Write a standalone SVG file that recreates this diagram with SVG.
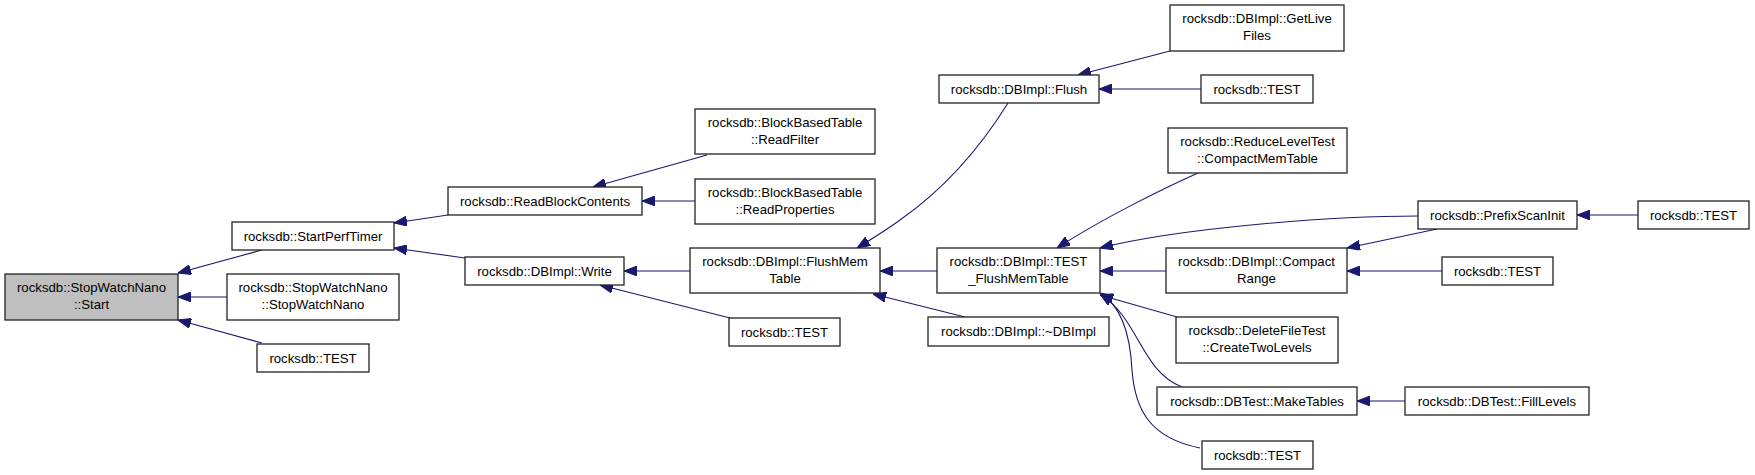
<svg xmlns="http://www.w3.org/2000/svg" width="1755" height="475" viewBox="0 0 1755 475">
<style>
.n rect{fill:#fff;stroke:#222;stroke-width:1.3}
.n.hl rect{fill:#bfbfbf}
.n text{font-family:"Liberation Sans",Arial,sans-serif;font-size:13.2px;text-anchor:middle;fill:#000}
.e path{fill:none;stroke:#191970;stroke-width:1.1;marker-end:url(#ah)}
</style>
<defs>
<marker id="ah" viewBox="0 0 13 10" refX="13" refY="5" markerWidth="13" markerHeight="10" markerUnits="userSpaceOnUse" orient="auto">
<path d="M0,0 L13,5 L0,10 z" fill="#191970" stroke="#191970" stroke-width="1"/>
</marker>
</defs>
<rect width="1755" height="475" fill="#fff"/>
<g id="edges" class="e">
<path d="M262,250 L178,273"/>
<path d="M227,297 L178,297"/>
<path d="M262,343 L178,320"/>
<path d="M448,215 L394,223"/>
<path d="M465,258 L394,248"/>
<path d="M707,155 L593,187"/>
<path d="M695,201 L642,201"/>
<path d="M690,271 L624,271"/>
<path d="M730,318 L600,285"/>
<path d="M1008,103 C985,140 950,185 900,220 C885,231 870,240 857,248"/>
<path d="M937,271 L880,271"/>
<path d="M965,317 L873,294"/>
<path d="M1170,51 L1078,75"/>
<path d="M1201,89 L1099,89"/>
<path d="M1198,173 C1160,190 1100,220 1057,248"/>
<path d="M1418,216 C1330,216 1180,228 1100,248"/>
<path d="M1166,271 L1100,271"/>
<path d="M1177,317 L1100,295"/>
<path d="M1182,387 C1140,370 1140,320 1100,294"/>
<path d="M1200,448 C1150,438 1135,410 1132,370 C1130,330 1120,305 1100,293"/>
<path d="M1437,229 L1347,248"/>
<path d="M1442,271 L1347,271"/>
<path d="M1638,215 L1577,215"/>
<path d="M1405,401 L1357,401"/>
</g>
<g id="n_start" class="n hl"><rect x="5" y="274" width="173" height="46"/><text x="91.5" y="292">rocksdb::StopWatchNano</text><text x="91.5" y="309">::Start</text></g>
<g id="n_startperftimer" class="n"><rect x="232" y="222" width="162" height="28"/><text x="313" y="240.5">rocksdb::StartPerfTimer</text></g>
<g id="n_stopwatchnano" class="n"><rect x="227" y="274" width="172" height="46"/><text x="313" y="292">rocksdb::StopWatchNano</text><text x="313" y="309">::StopWatchNano</text></g>
<g id="n_test1" class="n"><rect x="257" y="344" width="112" height="28"/><text x="313" y="362.5">rocksdb::TEST</text></g>
<g id="n_readblockcontents" class="n"><rect x="448" y="187" width="194" height="28"/><text x="545" y="205.5">rocksdb::ReadBlockContents</text></g>
<g id="n_write" class="n"><rect x="465" y="257" width="159" height="28"/><text x="544.5" y="275.5">rocksdb::DBImpl::Write</text></g>
<g id="n_readfilter" class="n"><rect x="695" y="109" width="180" height="45"/><text x="785" y="127">rocksdb::BlockBasedTable</text><text x="785" y="144">::ReadFilter</text></g>
<g id="n_readproperties" class="n"><rect x="695" y="179" width="180" height="45"/><text x="785" y="197">rocksdb::BlockBasedTable</text><text x="785" y="214">::ReadProperties</text></g>
<g id="n_flushmemtable" class="n"><rect x="690" y="248" width="190" height="45"/><text x="785" y="266">rocksdb::DBImpl::FlushMem</text><text x="785" y="283">Table</text></g>
<g id="n_test2" class="n"><rect x="729" y="318" width="111" height="28"/><text x="784.5" y="336.5">rocksdb::TEST</text></g>
<g id="n_getlivefiles" class="n"><rect x="1170" y="5" width="174" height="46"/><text x="1257" y="23">rocksdb::DBImpl::GetLive</text><text x="1257" y="40">Files</text></g>
<g id="n_flush" class="n"><rect x="939" y="75" width="160" height="28"/><text x="1019" y="93.5">rocksdb::DBImpl::Flush</text></g>
<g id="n_test3" class="n"><rect x="1201" y="75" width="112" height="28"/><text x="1257" y="93.5">rocksdb::TEST</text></g>
<g id="n_compactmemtable" class="n"><rect x="1168" y="128" width="179" height="45"/><text x="1257.5" y="146">rocksdb::ReduceLevelTest</text><text x="1257.5" y="163">::CompactMemTable</text></g>
<g id="n_test_flushmemtable" class="n"><rect x="937" y="248" width="163" height="45"/><text x="1018.5" y="266">rocksdb::DBImpl::TEST</text><text x="1018.5" y="283">_FlushMemTable</text></g>
<g id="n_compactrange" class="n"><rect x="1166" y="248" width="181" height="45"/><text x="1256.5" y="266">rocksdb::DBImpl::Compact</text><text x="1256.5" y="283">Range</text></g>
<g id="n_dtor" class="n"><rect x="928" y="317" width="181" height="29"/><text x="1018.5" y="336">rocksdb::DBImpl::~DBImpl</text></g>
<g id="n_createtwolevels" class="n"><rect x="1176" y="317" width="162" height="46"/><text x="1257" y="335">rocksdb::DeleteFileTest</text><text x="1257" y="352">::CreateTwoLevels</text></g>
<g id="n_maketables" class="n"><rect x="1157" y="387" width="200" height="28"/><text x="1257" y="405.5">rocksdb::DBTest::MakeTables</text></g>
<g id="n_test4" class="n"><rect x="1202" y="441" width="111" height="28"/><text x="1257.5" y="459.5">rocksdb::TEST</text></g>
<g id="n_prefixscaninit" class="n"><rect x="1418" y="201" width="159" height="28"/><text x="1497.5" y="219.5">rocksdb::PrefixScanInit</text></g>
<g id="n_test5" class="n"><rect x="1638" y="201" width="111" height="28"/><text x="1693.5" y="219.5">rocksdb::TEST</text></g>
<g id="n_test6" class="n"><rect x="1442" y="257" width="111" height="28"/><text x="1497.5" y="275.5">rocksdb::TEST</text></g>
<g id="n_filllevels" class="n"><rect x="1405" y="387" width="184" height="28"/><text x="1497" y="405.5">rocksdb::DBTest::FillLevels</text></g>
</svg>
